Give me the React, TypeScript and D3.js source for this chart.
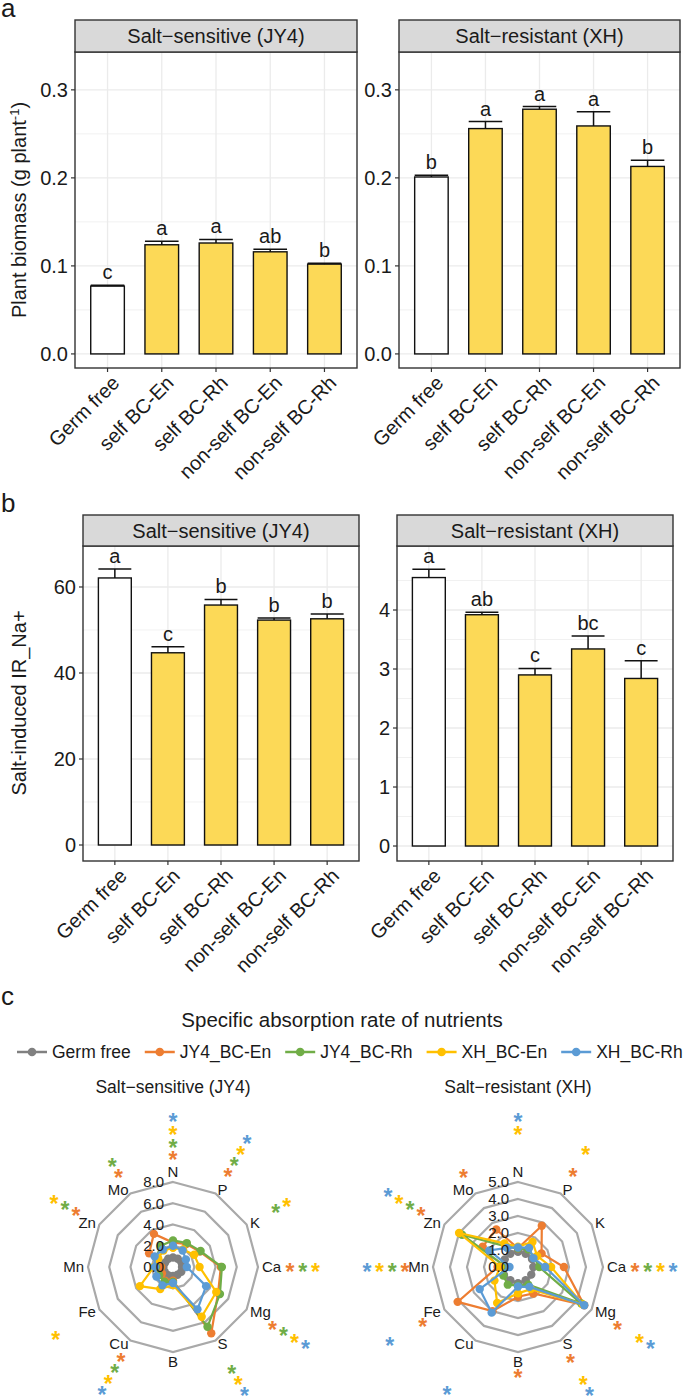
import React from "react";
import * as d3 from "d3";

const W = 685;
const H = 1396;
const FONT = "'Liberation Sans', Arial, Helvetica, sans-serif";
const TXT = "#1a1a1a";

// ---- panels a & b: bar charts ----
const groups = ["Germ free", "self BC-En", "self BC-Rh", "non-self BC-En", "non-self BC-Rh"];

const biomassJY4 = [0.077, 0.124, 0.126, 0.116, 0.102];
const biomassJY4Se = [0.001, 0.004, 0.004, 0.003, 0.001];
const biomassJY4Sig = ["c", "a", "a", "ab", "b"];
const biomassXH = [0.201, 0.256, 0.278, 0.259, 0.213];
const biomassXHSe = [0.002, 0.008, 0.003, 0.016, 0.007];
const biomassXHSig = ["b", "a", "a", "a", "b"];

const irJY4 = [62.1, 44.7, 55.8, 52.3, 52.6];
const irJY4Se = [2.1, 1.4, 1.3, 0.5, 1.1];
const irJY4Sig = ["a", "c", "b", "b", "b"];
const irXH = [4.55, 3.92, 2.9, 3.34, 2.84];
const irXHSe = [0.14, 0.04, 0.11, 0.22, 0.3];
const irXHSig = ["a", "ab", "c", "bc", "c"];

// ---- panel c: radar charts ----
const nutrients = ["N", "P", "K", "Ca", "Mg", "S", "B", "Cu", "Fe", "Mn", "Zn", "Mo"];
const seriesNames = ["Germ free", "JY4_BC-En", "JY4_BC-Rh", "XH_BC-En", "XH_BC-Rh"];
const seriesColors = ["#808080", "#ED7D31", "#70AD47", "#FFC000", "#5B9BD5"];

const sarJY4GermFree = [0.9, 0.9, 0.9, 0.85, 0.9, 0.85, 0.85, 0.9, 0.9, 0.9, 0.85, 0.9];
const sarJY4En = [2.3, 2.5, 2.9, 4.5, 4.9, 7.2, 1.3, 1.5, 1.2, 1.1, 2.6, 3.6];
const sarJY4Rh = [2.5, 2.6, 3.0, 4.6, 5.1, 6.5, 1.4, 1.6, 1.5, 1.6, 1.8, 2.3];
const sarJY4XhEn = [1.8, 1.9, 2.3, 2.5, 4.7, 5.4, 1.7, 2.4, 3.6, 1.8, 1.6, 1.8];
const sarJY4XhRh = [2.0, 1.8, 1.4, 1.3, 3.6, 4.6, 1.5, 2.0, 1.8, 1.7, 2.0, 1.9];

const sarXHGermFree = [0.9, 0.9, 0.95, 0.9, 0.9, 0.9, 0.95, 0.9, 0.95, 0.9, 0.9, 0.9];
const sarXHJyEn = [1.1, 2.8, 1.6, 2.7, 4.5, 1.8, 1.75, 3.0, 4.1, 1.2, 2.4, 2.55];
const sarXHJyRh = [1.1, 1.2, 1.1, 1.25, 4.3, 1.2, 1.1, 1.2, 1.0, 0.7, 3.8, 1.4];
const sarXHEn = [1.2, 1.7, 1.3, 1.95, 4.4, 1.5, 1.55, 2.45, 1.6, 1.05, 4.0, 1.6];
const sarXHRh = [1.15, 1.3, 1.05, 1.6, 4.5, 1.35, 1.15, 3.1, 2.6, 0.5, 1.95, 1.3];

const ticksJY4 = [0, 2, 4, 6, 8];
const ticksXH = [0, 1, 2, 3, 4, 5];

// significant series (index into seriesNames) per nutrient
const starsJY4: Record<string, number[]> = {
  N: [1, 2, 3, 4], P: [1, 2, 3, 4], K: [2, 3], Ca: [1, 2, 3], Mg: [1, 2, 3, 4],
  S: [2, 3, 4], Cu: [1, 2, 3, 4], Fe: [3], Zn: [1, 2, 3], Mo: [1, 2],
};
const starsXH: Record<string, number[]> = {
  N: [3, 4], P: [1, 3], Ca: [1, 2, 3, 4], Mg: [1, 3, 4], S: [1, 3, 4], B: [1],
  Cu: [4], Fe: [1, 4], Mn: [1, 2, 3, 4], Zn: [1, 2, 3, 4], Mo: [1],
};

// layout: gap between outer ring and first asterisk slot, per spoke
const STAR_GAP = [27, 25, 21, 32, 30, 20, 21, 19, 25, 28, 27, 24];
const STAR_STEP = 12.7;

function BarPanel(props: any) {
  const { x0, x1, stripTop, plotTop, plotBottom, domain, major, minor, fmt, values, se, sig, title } = props;
  const x = d3.scalePoint().domain(groups).range([x0, x1]).padding(0.6);
  const bw = x.step() * 0.62;
  const y = d3.scaleLinear().domain(domain).range([plotBottom, plotTop]);
  return (
    <g>
      <rect x={x0} y={plotTop} width={x1 - x0} height={plotBottom - plotTop} fill="#fff" />
      {minor.map((t: number) => (
        <line key={"mi" + t} x1={x0} x2={x1} y1={y(t)} y2={y(t)} stroke="#EBEBEB" strokeWidth={0.7} />
      ))}
      {major.map((t: number) => (
        <line key={"ma" + t} x1={x0} x2={x1} y1={y(t)} y2={y(t)} stroke="#EBEBEB" strokeWidth={1.3} />
      ))}
      {groups.map((g) => (
        <line key={"v" + g} x1={x(g)} x2={x(g)} y1={plotTop} y2={plotBottom} stroke="#EBEBEB" strokeWidth={1.3} />
      ))}
      {groups.map((g, i) => (
        <rect key={"b" + g} x={x(g)! - bw / 2} y={y(values[i])} width={bw} height={y(0) - y(values[i])}
          fill={i === 0 ? "#ffffff" : "#FCD957"} stroke="#111" strokeWidth={1.4} />
      ))}
      {groups.map((g, i) => (
        <g key={"e" + g} stroke="#111" strokeWidth={1.5}>
          <line x1={x(g)} x2={x(g)} y1={y(values[i])} y2={y(values[i] + se[i])} />
          <line x1={x(g)! - bw / 2} x2={x(g)! + bw / 2} y1={y(values[i] + se[i])} y2={y(values[i] + se[i])} />
        </g>
      ))}
      {groups.map((g, i) => (
        <text key={"s" + g} x={x(g)} y={y(values[i] + se[i]) - 6} textAnchor="middle" fontSize={20} fill={TXT}>
          {sig[i]}
        </text>
      ))}
      <rect x={x0} y={plotTop} width={x1 - x0} height={plotBottom - plotTop} fill="none" stroke="#333" strokeWidth={1.4} />
      <rect x={x0} y={stripTop} width={x1 - x0} height={plotTop - stripTop} fill="#D9D9D9" stroke="#333" strokeWidth={1.4} />
      <text x={(x0 + x1) / 2} y={(stripTop + plotTop) / 2} dy="0.36em" textAnchor="middle" fontSize={20} fill={TXT}>
        {title}
      </text>
      {major.map((t: number) => (
        <g key={"yt" + t}>
          <line x1={x0 - 4} x2={x0} y1={y(t)} y2={y(t)} stroke="#333" strokeWidth={1.2} />
          <text x={x0 - 7} y={y(t)} dy="0.36em" textAnchor="end" fontSize={20} fill={TXT}>{fmt(t)}</text>
        </g>
      ))}
      {groups.map((g) => (
        <g key={"xt" + g}>
          <line x1={x(g)} x2={x(g)} y1={plotBottom} y2={plotBottom + 4} stroke="#333" strokeWidth={1.2} />
          <text transform={`translate(${x(g)! + 3},${plotBottom + 6}) rotate(-45)`} dy="0.72em"
            textAnchor="end" fontSize={20} fill={TXT}>{g}</text>
        </g>
      ))}
    </g>
  );
}

function Radar(props: any) {
  const { cx, cy, R, ticks, data, stars, title } = props;
  const max = ticks[ticks.length - 1];
  const r = d3.scaleLinear().domain([0, max]).range([0, R]);
  const step = (2 * Math.PI) / nutrients.length;
  const ang = (i: number) => i * step;
  const pt = (i: number, rad: number) => [cx + rad * Math.sin(ang(i)), cy - rad * Math.cos(ang(i))];
  const ring = d3.lineRadial<number>().angle((_, i) => ang(i)).radius((v) => r(v)).curve(d3.curveLinearClosed);
  return (
    <g>
      <text x={cx} y={1087} dy="0.36em" textAnchor="middle" fontSize={17.5} fill={TXT}>{title}</text>
      <g transform={`translate(${cx},${cy})`}>
        {ticks.filter((t: number) => t > 0).map((t: number) => (
          <path key={"ring" + t} d={ring(nutrients.map(() => t))!} fill="none" stroke="#A9A9A9" strokeWidth={2.2} />
        ))}
        {data.map((vals: number[], s: number) => (
          <g key={"ser" + s}>
            <path d={ring(vals)!} fill="none" stroke={seriesColors[s]} strokeWidth={2.2} />
            {vals.map((v, i) => (
              <circle key={i} cx={r(v) * Math.sin(ang(i))} cy={-r(v) * Math.cos(ang(i))} r={4.2} fill={seriesColors[s]} />
            ))}
          </g>
        ))}
      </g>
      {ticks.map((t: number) => (
        <text key={"tl" + t} x={cx - 9} y={cy - r(t)} dy="0.36em" textAnchor="end" fontSize={15} fill={TXT}>
          {d3.format(".1f")(t)}
        </text>
      ))}
      {nutrients.map((n, i) => {
        const s = Math.sin(ang(i));
        const vertical = Math.abs(s) < 0.1;
        const [lx, ly] = pt(i, R + (vertical ? 10 : 4));
        const anchor = s > 0.1 ? "start" : s < -0.1 ? "end" : "middle";
        return (
          <text key={"ax" + n} x={lx} y={ly} dy="0.36em" textAnchor={anchor} fontSize={15} fill={TXT}>{n}</text>
        );
      })}
      {nutrients.map((n, i) =>
        (stars[n] || []).map((s: number) => {
          const [sx, sy] = pt(i, R + STAR_GAP[i] + (s - 1) * STAR_STEP);
          return (
            <text key={"st" + n + s} x={sx} y={sy} dy="0.58em" textAnchor="middle" fontSize={23}
              fontWeight="bold" fill={seriesColors[s]}>*</text>
          );
        })
      )}
    </g>
  );
}

function measure(text: string, size: number) {
  const ctx = document.createElement("canvas").getContext("2d");
  if (!ctx) return text.length * size * 0.55;
  ctx.font = `${size}px 'Liberation Sans', Arial, sans-serif`;
  return ctx.measureText(text).width;
}

function Legend() {
  const fs = 17.5;
  let cur = 17;
  const items = seriesNames.map((name, i) => {
    const x = cur;
    cur += 30 + 5 + measure(name, fs) + 14;
    return { name, x, color: seriesColors[i] };
  });
  const ly = 1052;
  return (
    <g>
      {items.map((it) => (
        <g key={it.name}>
          <line x1={it.x} x2={it.x + 30} y1={ly} y2={ly} stroke={it.color} strokeWidth={2.5} />
          <circle cx={it.x + 15} cy={ly} r={4.3} fill={it.color} />
          <text x={it.x + 35} y={ly} dy="0.36em" fontSize={fs} fill={TXT}>{it.name}</text>
        </g>
      ))}
    </g>
  );
}

export default function App() {
  return (
    <div style={{ position: "absolute", left: 0, top: 0 }}>
      <svg width={W} height={H} viewBox={`0 0 ${W} ${H}`} style={{ display: "block", fontFamily: FONT, background: "#fff" }}>
        {/* a */}
        <text x={1} y={17} fontSize={26} fill={TXT}>a</text>
        <text transform="translate(26,210) rotate(-90)" textAnchor="middle" fontSize={20} fill={TXT}>
          Plant biomass (g plant<tspan dy={-7} fontSize={13}>-1</tspan><tspan dy={7}>)</tspan>
        </text>
        <BarPanel x0={75} x1={357} stripTop={20} plotTop={52} plotBottom={368} domain={[-0.016, 0.343]}
          major={[0, 0.1, 0.2, 0.3]} minor={[0.05, 0.15, 0.25]} fmt={d3.format(".1f")}
          values={biomassJY4} se={biomassJY4Se} sig={biomassJY4Sig} title="Salt−sensitive (JY4)" />
        <BarPanel x0={399} x1={680} stripTop={20} plotTop={52} plotBottom={368} domain={[-0.016, 0.343]}
          major={[0, 0.1, 0.2, 0.3]} minor={[0.05, 0.15, 0.25]} fmt={d3.format(".1f")}
          values={biomassXH} se={biomassXHSe} sig={biomassXHSig} title="Salt−resistant (XH)" />

        {/* b */}
        <text x={1} y={512} fontSize={26} fill={TXT}>b</text>
        <text transform="translate(26,703) rotate(-90)" textAnchor="middle" fontSize={20} fill={TXT}>
          Salt-induced IR_Na+
        </text>
        <BarPanel x0={83} x1={359} stripTop={515} plotTop={546} plotBottom={861} domain={[-3.72, 69.53]}
          major={[0, 20, 40, 60]} minor={[10, 30, 50]} fmt={d3.format("d")}
          values={irJY4} se={irJY4Se} sig={irJY4Sig} title="Salt−sensitive (JY4)" />
        <BarPanel x0={397} x1={673} stripTop={515} plotTop={546} plotBottom={861} domain={[-0.254, 5.085]}
          major={[0, 1, 2, 3, 4]} minor={[0.5, 1.5, 2.5, 3.5, 4.5]} fmt={d3.format("d")}
          values={irXH} se={irXHSe} sig={irXHSig} title="Salt−resistant (XH)" />

        {/* c */}
        <text x={1} y={1005} fontSize={26} fill={TXT}>c</text>
        <text x={342} y={1020} dy="0.36em" textAnchor="middle" fontSize={20.5} fill={TXT}>
          Specific absorption rate of nutrients
        </text>
        <Legend />
        <Radar cx={173} cy={1267} R={85} ticks={ticksJY4} title="Salt−sensitive (JY4)" stars={starsJY4}
          data={[sarJY4GermFree, sarJY4En, sarJY4Rh, sarJY4XhEn, sarJY4XhRh]} />
        <Radar cx={518} cy={1267} R={85} ticks={ticksXH} title="Salt−resistant (XH)" stars={starsXH}
          data={[sarXHGermFree, sarXHJyEn, sarXHJyRh, sarXHEn, sarXHRh]} />
      </svg>
    </div>
  );
}
